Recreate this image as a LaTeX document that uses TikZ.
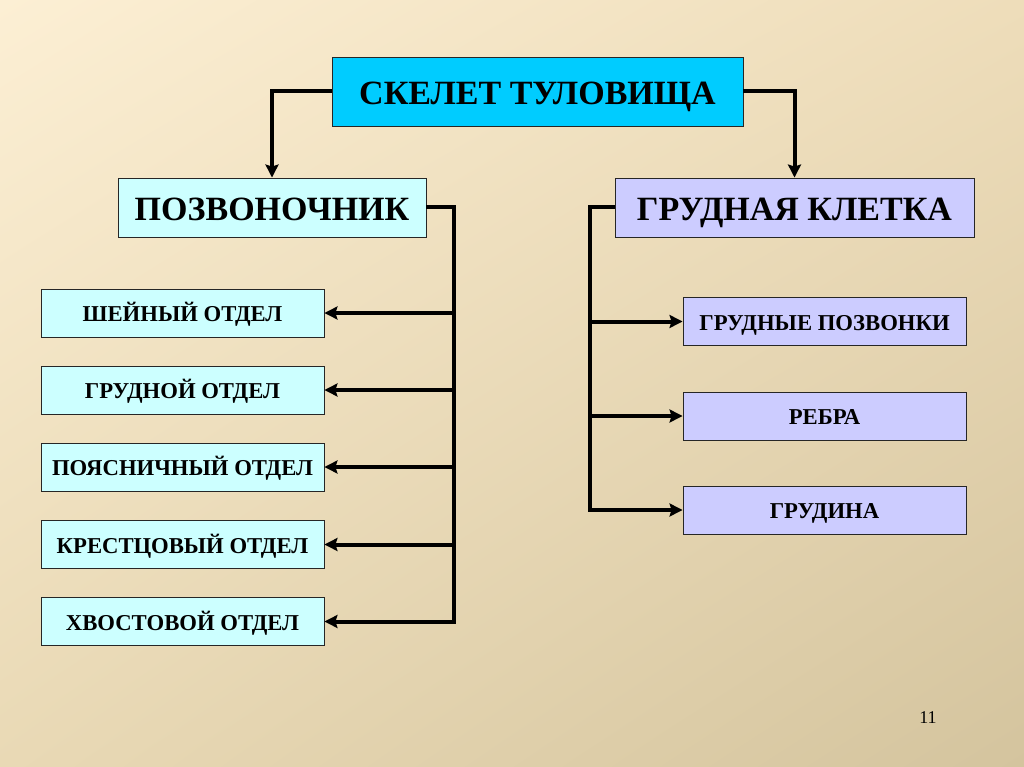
\documentclass[tikz,border=0pt]{standalone}
\usepackage{fontspec}
\setmainfont{Liberation Serif}
\usetikzlibrary{arrows.meta,shadings}
\definecolor{bgA}{HTML}{FCEFD4}
\definecolor{bgB}{HTML}{EEDDBA}
\definecolor{bgC}{HTML}{E9D9B5}
\definecolor{bgD}{HTML}{D4C49E}
\definecolor{topfill}{HTML}{00CCFF}
\definecolor{cyanfill}{HTML}{CCFFFF}
\definecolor{lilacfill}{HTML}{CCCCFF}
\tikzset{
  box/.style={draw=black!85, line width=0.9pt, rectangle, inner sep=0pt, text depth=0pt},
  bigbox/.style={box, font=\fontsize{34}{40}\selectfont\bfseries, text height=27pt},
  midbox/.style={box, font=\fontsize{34}{40}\selectfont\bfseries, text height=27pt},
  smallbox/.style={box, font=\fontsize{22.7}{27}\selectfont\bfseries, text height=17.5pt, minimum width=283pt, minimum height=48pt},
  conn/.style={line width=4pt, black},
  arr/.style={conn, -{Stealth[length=13pt,width=13pt,inset=2pt]}}
}
\begin{document}
\begin{tikzpicture}[x=1pt,y=-1pt]
\useasboundingbox (0,0) rectangle (1024,767);
\shade[upper left=bgA, upper right=bgB, lower left=bgC, lower right=bgD] (0,0) rectangle (1024,767);

\node[bigbox, fill=topfill, minimum width=411pt, minimum height=69pt] (top) at (537.5,91.5) {СКЕЛЕТ ТУЛОВИЩА};
\node[midbox, fill=cyanfill, minimum width=308pt, minimum height=59pt] (pz) at (272,207.5) {ПОЗВОНОЧНИК};
\node[midbox, fill=lilacfill, minimum width=359pt, minimum height=59pt] (gk) at (794.5,207.5) {ГРУДНАЯ КЛЕТКА};

\node[smallbox, fill=cyanfill] (l1) at (182.5,313) {ШЕЙНЫЙ ОТДЕЛ};
\node[smallbox, fill=cyanfill] (l2) at (182.5,390) {ГРУДНОЙ ОТДЕЛ};
\node[smallbox, fill=cyanfill] (l3) at (182.5,467) {ПОЯСНИЧНЫЙ ОТДЕЛ};
\node[smallbox, fill=cyanfill] (l4) at (182.5,544.5) {КРЕСТЦОВЫЙ ОТДЕЛ};
\node[smallbox, fill=cyanfill] (l5) at (182.5,621.5) {ХВОСТОВОЙ ОТДЕЛ};

\node[smallbox, fill=lilacfill] (r1) at (824.5,321.5) {ГРУДНЫЕ ПОЗВОНКИ};
\node[smallbox, fill=lilacfill] (r2) at (824.5,416) {РЕБРА};
\node[smallbox, fill=lilacfill] (r3) at (824.5,510) {ГРУДИНА};

\node[font=\fontsize{18}{20}\selectfont] (num) at (928,718) {11};

% top connectors
\draw[arr] (top.west) -| (pz.north);
\draw[arr] (top.east) -| (gk.north);

% left trunk
\coordinate (lt) at (454,207.5);
\draw[arr] (pz.east) -- (lt) |- (l5.east);
\foreach \n in {l1,l2,l3,l4}
  \draw[arr] (lt |- \n.east) -- (\n.east);

% right trunk
\coordinate (rt) at (590,207.5);
\draw[arr] (gk.west) -- (rt) |- (r3.west);
\foreach \n in {r1,r2}
  \draw[arr] (rt |- \n.west) -- (\n.west);
\end{tikzpicture}
\end{document}
